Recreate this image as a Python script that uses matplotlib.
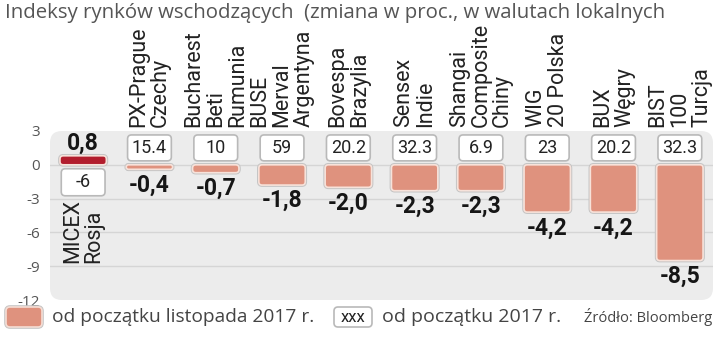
import matplotlib.pyplot as plt
import matplotlib.patheffects as pe
from matplotlib.patches import FancyBboxPatch
from matplotlib import font_manager as fm

plt.rcParams["axes.unicode_minus"] = False

# ===== dane =====
names = ["MICEX\nRosja", "PX-Prague\nCzechy", "Bucharest\nBeti\nRumunia",
         "BUSE\nMerval\nArgentyna", "Bovespa\nBrazylia", "Sensex\nIndie",
         "Shangai\nComposite\nChiny", "WIG\n20 Polska", "BUX\nWęgry",
         "BIST\n100\nTurcja"]
nov = [0.8, -0.4, -0.7, -1.8, -2.0, -2.3, -2.3, -4.2, -4.2, -8.5]
ytd = ["-6", "15.4", "10", "59", "20.2", "32.3", "6.9", "23", "20.2", "32.3"]
yticks = [-12, -9, -6, -3, 0, 3]

title = "Indeksy rynków wschodzących  (zmiana w proc., w walutach lokalnych"
leg1 = "od początku listopada 2017 r."
leg2 = "od początku 2017 r."
source = "Źródło: Bloomberg"

SALMON = "#df927e"
DARKRED = "#b21d2d"
PANEL = "#ececec"

names_avail = {f.name for f in fm.fontManager.ttflist}
NARROW = ["Liberation Sans Narrow", "DejaVu Sans"] if "Liberation Sans Narrow" in names_avail else ["Roboto", "DejaVu Sans"]
LIGHT = ["Open Sans", "DejaVu Sans"]

W, H = 720, 340
fig = plt.figure(figsize=(W / 100, H / 100), dpi=100)
ax = fig.add_axes([50 / W, 1 - 300 / H, 663 / W, 169 / H])
ax.set_xlim(-0.5, len(nov) - 0.5)
ax.set_ylim(yticks[0], yticks[-1])
ax.patch.set_visible(False)
for s in ax.spines.values():
    s.set_visible(False)

# stosunek jednostek y/x na piksel (do zaokraglen)
asp = (15 / 169) / (10 / 663)

# tlo panelu
ax.add_patch(FancyBboxPatch((0, 0), 1, 1, transform=ax.transAxes,
                            boxstyle="round,pad=0,rounding_size=0.018",
                            mutation_aspect=663 / 169, fc=PANEL, ec="none", zorder=0))
for t in yticks[1:-1]:
    ax.axhline(t, color="#d5d5d5", lw=1, zorder=1)

ax.set_xticks([])
ax.set_yticks(yticks)
ax.set_yticklabels([str(t) for t in yticks], color="#555555", fontsize=11, family=LIGHT)
ax.tick_params(axis="y", length=0, pad=7)


def rbox(x0, y0, w, h, r, **kw):
    rs = min(r, w / 2, h / (2 * asp))
    p = FancyBboxPatch((x0, y0), w, h, boxstyle=f"round,pad=0,rounding_size={rs}",
                       mutation_aspect=asp, **kw)
    ax.add_patch(p)
    return p


# ===== slupki =====
colors = [DARKRED if v > 0 else SALMON for v in nov]
bars = ax.bar(range(len(nov)), nov, width=0.7, color=colors)
shadow = [pe.Stroke(linewidth=2.6, foreground="#c4c4c4"), pe.Normal()]
for b, c in zip(bars, colors):
    b.set_visible(False)
    y0 = min(b.get_y(), b.get_y() + b.get_height())
    p = rbox(b.get_x(), y0, b.get_width(), abs(b.get_height()), 0.05,
             fc=c, ec="#f7e2da", lw=1.2, zorder=3)
    p.set_path_effects(shadow)

# ===== wartosci i etykiety =====
for i, (v, t, n) in enumerate(zip(nov, ytd, names)):
    lab = f"{v:.1f}".replace(".", ",")
    if v > 0:
        ax.annotate(lab, (i, v), xytext=(0, 1), textcoords="offset points",
                    ha="center", va="bottom", fontsize=16.5, fontweight="bold",
                    family=NARROW, color="#161616", zorder=5)
        by0, by1 = -2.75, -0.35
    else:
        ax.annotate(lab, (i, v), xytext=(0, -3), textcoords="offset points",
                    ha="center", va="top", fontsize=16.5, fontweight="bold",
                    family=NARROW, color="#161616", zorder=5)
        by0, by1 = 0.35, 2.65
    p = rbox(i - 0.33, by0, 0.66, by1 - by0, 0.06, fc="white", ec="#b9b9b9",
             lw=1.2, zorder=4)
    ax.text(i, (by0 + by1) / 2, t, ha="center", va="center", fontsize=13,
            family=NARROW, color="#222222", zorder=5)
    if v > 0:
        ax.annotate(n, (i, by0), xytext=(0, -2), textcoords="offset points",
                    rotation=90, ha="center", va="top", multialignment="left",
                    linespacing=1.05, fontsize=15.5, family=NARROW, color="#222222")
    else:
        ax.annotate(n, (i, yticks[-1]), xytext=(0, 3), textcoords="offset points",
                    rotation=90, ha="center", va="bottom", multialignment="left",
                    linespacing=1.05, fontsize=15.5, family=NARROW, color="#222222",
                    annotation_clip=False)

# ===== tytul i legenda =====
fig.text(5 / W, 1 - 13 / H, title, ha="left", va="center", fontsize=14.7,
         family=LIGHT, color="#555555")


def fbox(x0, y0, x1, y1, **kw):
    p = FancyBboxPatch((x0 / W, 1 - y1 / H), (x1 - x0) / W, (y1 - y0) / H,
                       boxstyle=f"round,pad=0,rounding_size={4 / W}",
                       mutation_aspect=W / H, transform=fig.transFigure, **kw)
    fig.add_artist(p)


fbox(6, 307, 42, 327, fc=SALMON, ec="#f5ddd4", lw=1.2, path_effects=shadow)
fig.text(52 / W, 1 - 317 / H, leg1, ha="left", va="center", fontsize=13.8,
         family=LIGHT, color="#444444")
fbox(334, 307, 372, 327, fc="white", ec="#b9b9b9", lw=1.2)
fig.text(353 / W, 1 - 317 / H, "xxx", ha="center", va="center", fontsize=12,
         family=NARROW, color="#222222")
fig.text(382 / W, 1 - 317 / H, leg2, ha="left", va="center", fontsize=14,
         family=LIGHT, color="#444444")
fig.text(712 / W, 1 - 317 / H, source, ha="right", va="center", fontsize=10.5,
         family=LIGHT, color="#444444")

fig.savefig("out.png", dpi=100)
